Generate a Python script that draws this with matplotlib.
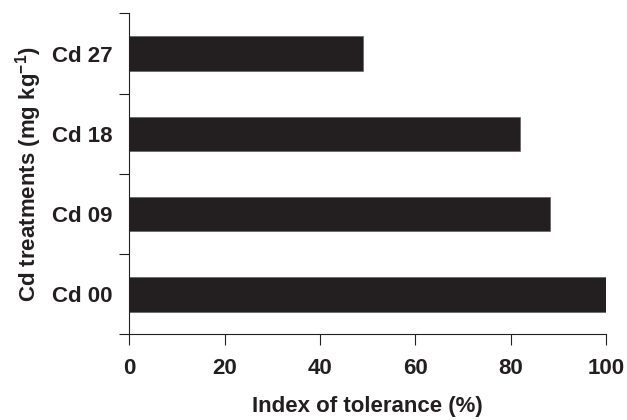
import numpy as np
import matplotlib
matplotlib.use('Agg')
import matplotlib.pyplot as plt

treatments = ['Cd 00', 'Cd 09', 'Cd 18', 'Cd 27']
tolerance = [100, 88.3, 82.0, 49.1]

dark = '#231f20'
plt.rcParams['font.family'] = ['Liberation Sans', 'DejaVu Sans']
plt.rcParams['font.weight'] = 'bold'
plt.rcParams['mathtext.fontset'] = 'custom'
plt.rcParams['mathtext.bf'] = 'Liberation Sans:bold'
plt.rcParams['mathtext.rm'] = 'Liberation Sans:bold'

fig = plt.figure(figsize=(6.27, 4.2), dpi=100)
ax = fig.add_axes([0.2062, 0.2036, 0.7603, 0.7643])

pos = np.arange(len(treatments))
ax.barh(pos, tolerance, height=0.43, color=dark, edgecolor='#555555', linewidth=0.4)

ax.set_xlim(0, 100)
ax.set_ylim(-0.5, len(treatments) - 0.5)
ax.set_xticks(np.arange(0, 101, 20))
ax.set_yticks(np.arange(-0.5, len(treatments), 1))
ax.set_yticklabels([])
ax.set_yticks(pos, minor=True)
ax.set_yticklabels(treatments, minor=True)

fs = 16
ax.tick_params(axis='y', which='major', direction='out', length=7, width=0.8, color=dark)
ax.tick_params(axis='y', which='minor', length=0, pad=12, labelsize=fs, labelcolor=dark)
ax.tick_params(axis='x', direction='out', length=8, width=0.8, color=dark, pad=9,
               labelsize=fs, labelcolor=dark)
for lab in ax.get_yticklabels(minor=True) + ax.get_xticklabels():
    lab.set_fontweight('bold')

for s in ['top', 'right']:
    ax.spines[s].set_visible(False)
for s in ['left', 'bottom']:
    ax.spines[s].set_color(dark)
    ax.spines[s].set_linewidth(0.8)

ax.set_xlabel('Index of tolerance (%)', fontsize=fs, fontweight='bold', color=dark, labelpad=12)
ax.set_ylabel('Cd treatments (mg kg$^{-1}$)', fontsize=fs, fontweight='bold', color=dark, labelpad=6)

fig.savefig('out.png', dpi=100)
